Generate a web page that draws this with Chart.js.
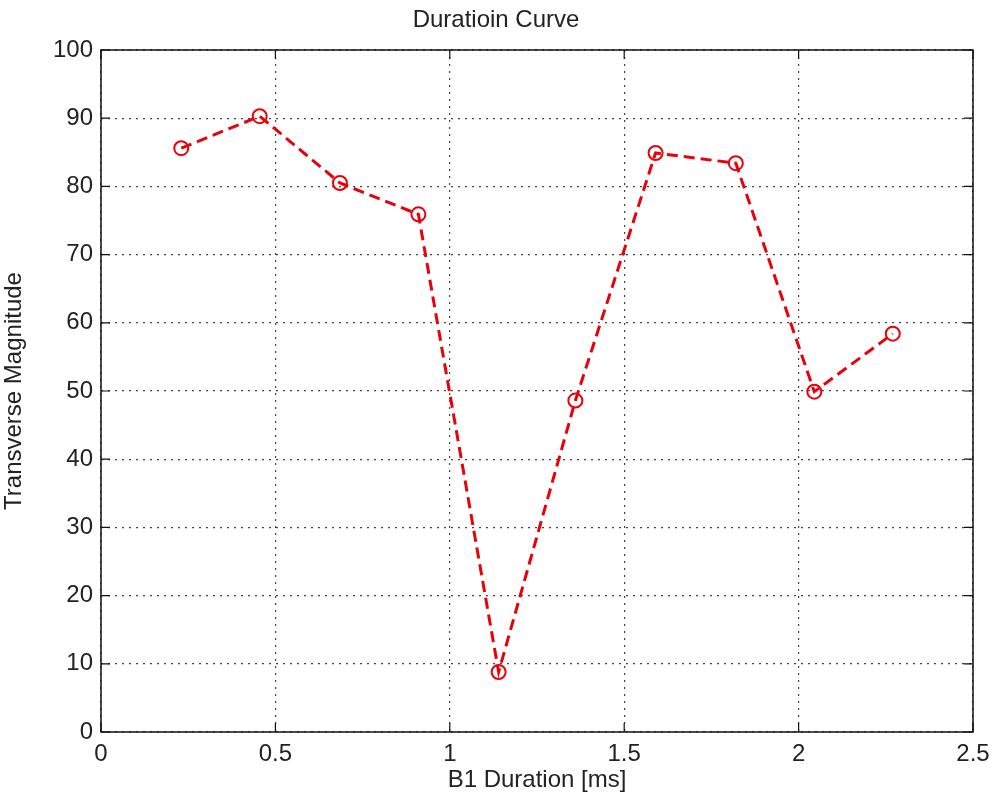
<!DOCTYPE html>
<html>
<head>
<meta charset="utf-8">
<script src="https://cdn.jsdelivr.net/npm/chart.js@4"></script>
<style>
  html, body { margin: 0; padding: 0; background: #fff; }
  #wrap { width: 992px; height: 808px; }
</style>
</head>
<body>
<div id="wrap"><canvas id="myChart" width="992" height="808"></canvas></div>
<script>
// values
const durations = [0.23, 0.455, 0.685, 0.91, 1.14, 1.36, 1.59, 1.82, 2.045, 2.27];
const magnitudes = [85.6, 90.3, 80.5, 75.9, 8.8, 48.6, 84.9, 83.4, 49.9, 58.4];
const xTicks = [0, 0.5, 1, 1.5, 2, 2.5];
const yTicks = [0, 10, 20, 30, 40, 50, 60, 70, 80, 90, 100];

const FONT = '"Liberation Sans", Arial, sans-serif';

// matlab style box with inward ticks
const boxPlugin = {
    id: 'box',
    afterDraw(chart) {
        const { ctx, chartArea: a, scales } = chart;
        ctx.save();
        ctx.strokeStyle = '#111';
        ctx.lineWidth = 1.5;
        ctx.strokeRect(a.left, a.top, a.right - a.left, a.bottom - a.top);
        ctx.lineWidth = 1.2;
        ctx.beginPath();
        xTicks.forEach(v => {
            const px = scales.x.getPixelForValue(v);
            ctx.moveTo(px, a.bottom); ctx.lineTo(px, a.bottom - 9);
            ctx.moveTo(px, a.top); ctx.lineTo(px, a.top + 9);
        });
        yTicks.forEach(v => {
            const py = scales.y.getPixelForValue(v);
            ctx.moveTo(a.left, py); ctx.lineTo(a.left + 9, py);
            ctx.moveTo(a.right, py); ctx.lineTo(a.right - 9, py);
        });
        ctx.stroke();
        ctx.restore();
    }
};

const ctx = document.getElementById('myChart').getContext('2d');
new Chart(ctx, {
    type: 'line',
    data: {
        datasets: [{
            data: durations.map((d, i) => ({ x: d, y: magnitudes[i] })),
            borderColor: '#e8000b',
            borderWidth: 3,
            borderDash: [11, 6],
            pointStyle: 'circle',
            pointRadius: 7,
            pointBorderWidth: 2,
            pointBorderColor: '#e8000b',
            pointBackgroundColor: 'rgba(0,0,0,0)',
            tension: 0,
            fill: false
        }]
    },
    options: {
        responsive: false,
        animation: false,
        layout: { padding: 0 },
        plugins: {
            legend: { display: false },
            tooltip: { enabled: false },
            title: {
                display: true,
                text: 'Duratioin Curve',
                color: '#222',
                font: { family: FONT, size: 24, weight: 'normal' },
                padding: { top: 6, bottom: 15.2 }
            }
        },
        scales: {
            x: {
                type: 'linear',
                min: 0,
                max: 2.5,
                afterBuildTicks: s => { s.ticks = xTicks.map(v => ({ value: v })); },
                afterFit: s => { s.height = 76; s.paddingRight = 19; s.paddingLeft = 0; },
                ticks: {
                    color: '#222',
                    padding: 8,
                    maxRotation: 0,
                    callback: v => String(v),
                    font: { family: FONT, size: 24 }
                },
                grid: { color: '#444', lineWidth: 1.2, drawTicks: false },
                border: { display: false, dash: [2, 5] },
                title: {
                    display: true,
                    text: 'B1 Duration [ms]',
                    color: '#222',
                    font: { family: FONT, size: 24 },
                    padding: { top: 0, bottom: 13.6 }
                }
            },
            y: {
                min: 0,
                max: 100,
                afterBuildTicks: s => { s.ticks = yTicks.map(v => ({ value: v })); },
                afterFit: s => { s.width = 101; s.paddingTop = 0; s.paddingBottom = 0; },
                ticks: {
                    color: '#222',
                    padding: 8,
                    callback: v => String(v),
                    font: { family: FONT, size: 24 }
                },
                grid: { color: '#444', lineWidth: 1.2, drawTicks: false },
                border: { display: false, dash: [2, 5] },
                title: {
                    display: true,
                    text: 'Transverse Magnitude',
                    color: '#222',
                    font: { family: FONT, size: 24 },
                    padding: { top: 0, bottom: 0 }
                }
            }
        }
    },
    plugins: [boxPlugin]
});
</script>
</body>
</html>
